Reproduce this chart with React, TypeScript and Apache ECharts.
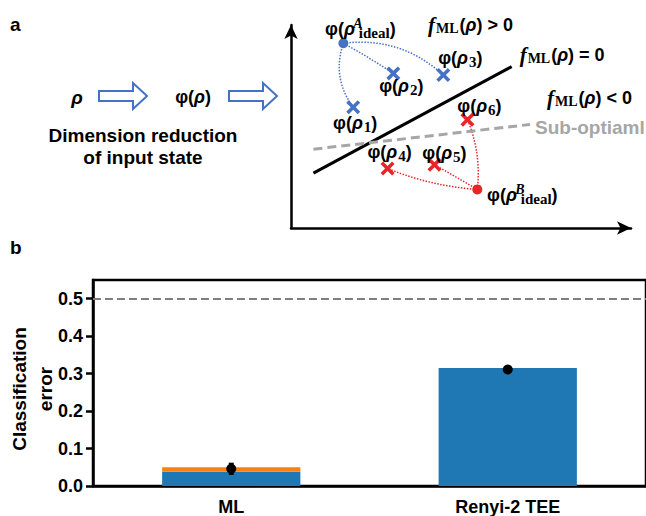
import React, { useEffect, useRef } from "react";
import * as echarts from "echarts";

const SANS = "'Liberation Sans', Arial, sans-serif";
const SERIF = "'Liberation Serif', 'Times New Roman', serif";

// ---------- Panel b: classification error ----------
const categories = ["ML", "Renyi-2 TEE"];
const blueError = [0.038, 0.315];
const orangeError = [0.012, 0];
const meanError = [0.046, 0.311];
const lowError = [0.033, 0.305];
const highError = [0.059, 0.317];
const yTickValues = [0, 0.1, 0.2, 0.3, 0.4, 0.5];
const chanceLevel = 0.5;
const yAxisTitleLines = ["Classification", "error"];

// ---------- Panel a: schematic feature space (arbitrary units) ----------
const classAIndex = ["1", "2", "3"];
const classAX = [1.83, 3.01, 4.48];
const classAY = [3.57, 4.57, 4.52];
const classBIndex = ["4", "5", "6"];
const classBX = [2.84, 4.22, 5.19];
const classBY = [1.76, 1.87, 3.2];
const idealA = [1.54, 5.46];
const idealB = [5.48, 1.14];
const boundaryX = [0.66, 6.49];
const boundaryY = [1.62, 4.77];
const subOptX = [0.66, 7.03];
const subOptY = [2.33, 3.06];

const BLUE = "#4472c4";
const RED = "#e8262a";

const noBorder = { textBorderWidth: 0, textBorderColor: "transparent", textShadowBlur: 0 };

const rich: any = {
  p: { fontFamily: SANS, fontWeight: "bold", fontSize: 18, color: "#000", ...noBorder },
  r: { fontFamily: SANS, fontWeight: "bold", fontStyle: "italic", fontSize: 18, color: "#000", ...noBorder },
  s: { fontFamily: SERIF, fontWeight: "bold", fontSize: 15, color: "#000", padding: [8, 0, 0, 1], ...noBorder },
  sup: { fontFamily: SERIF, fontWeight: "bold", fontStyle: "italic", fontSize: 14, color: "#000", padding: [0, 0, 11, 3], width: 0, ...noBorder },
  sub: { fontFamily: SERIF, fontWeight: "bold", fontSize: 15, color: "#000", padding: [8, 0, 0, 1], ...noBorder },
  f: { fontFamily: SERIF, fontWeight: "bold", fontStyle: "italic", fontSize: 21, color: "#000", ...noBorder },
  fs: { fontFamily: SERIF, fontWeight: "bold", fontSize: 14, color: "#000", padding: [7, 1, 0, 1], ...noBorder },
};

const phi = (i: string) => `{p|φ(}{r|ρ}{s|${i}}{p|)}`;
const phiIdeal = (c: string) => `{p|φ(}{r|ρ}{sup|${c}}{sub|ideal}{p|)}`;
const fml = (rel: string) => `{f|f}{fs|ML}{p|(}{r|ρ}{p|) ${rel} 0}`;

const offsetsA = [[2, 16], [8, 13], [17, -17]];
const offsetsB = [[2, -16], [10, -12], [12, -14]];
const curveA = [-0.26, 0.02, 0.23];
const curveB = [0.08, 0, -0.13];

const crossPath =
  "path://M1.8,0L5,3.2L8.2,0L10,1.8L6.8,5L10,8.2L8.2,10L5,6.8L1.8,10L0,8.2L3.2,5L0,1.8Z";

function buildOption(): any {
  const labelBase = { show: true, position: "inside", rich, color: "#000", ...noBorder };
  return {
    animation: false,
    backgroundColor: "#fff",
    grid: [
      { left: 93, right: -4, top: 280, bottom: 28, show: true, borderColor: "#000", borderWidth: 2.5 },
      { left: 291, right: 15, top: 25, bottom: 288 },
    ],
    xAxis: [
      {
        type: "category",
        gridIndex: 0,
        data: categories,
        axisLine: { lineStyle: { color: "#000", width: 2.5 } },
        axisTick: { show: false },
        axisLabel: { color: "#000", fontFamily: SANS, fontWeight: "bold", fontSize: 18, margin: 12 },
      },
      {
        type: "value",
        gridIndex: 1,
        min: 0,
        max: 10,
        axisLine: { show: true, symbol: ["none", "arrow"], symbolSize: [10, 14], lineStyle: { color: "#000", width: 2.5 } },
        axisTick: { show: false },
        axisLabel: { show: false },
        splitLine: { show: false },
      },
    ],
    yAxis: [
      {
        type: "value",
        gridIndex: 0,
        min: 0,
        max: 0.55,
        axisLine: { show: true, lineStyle: { color: "#000", width: 2.5 } },
        axisTick: { show: true, length: 7, lineStyle: { width: 2.5, color: "#000" }, customValues: yTickValues },
        axisLabel: {
          color: "#000",
          fontFamily: SANS,
          fontWeight: "bold",
          fontSize: 18,
          margin: 10,
          customValues: yTickValues,
          formatter: (v: number) => v.toFixed(1),
        },
        splitLine: { show: false },
      },
      {
        type: "value",
        gridIndex: 1,
        min: 0,
        max: 6,
        axisLine: { show: true, symbol: ["none", "arrow"], symbolSize: [10, 14], lineStyle: { color: "#000", width: 2.5 } },
        axisTick: { show: false },
        axisLabel: { show: false },
        splitLine: { show: false },
      },
    ],
    series: [
      {
        type: "bar",
        xAxisIndex: 0,
        yAxisIndex: 0,
        stack: "err",
        barWidth: "50%",
        data: blueError,
        itemStyle: { color: "#1f77b4" },
        markLine: {
          silent: true,
          symbol: "none",
          label: { show: false },
          lineStyle: { color: "#7f7f7f", width: 2, type: [8, 4] },
          data: [{ yAxis: chanceLevel }],
        },
      },
      {
        type: "bar",
        xAxisIndex: 0,
        yAxisIndex: 0,
        stack: "err",
        barWidth: "50%",
        data: orangeError,
        itemStyle: { color: "#ff7f0e" },
      },
      {
        type: "custom",
        xAxisIndex: 0,
        yAxisIndex: 0,
        data: categories.map((_, i) => [i, meanError[i], lowError[i], highError[i]]),
        renderItem: (params: any, api: any) => {
          const c = api.coord([api.value(0), api.value(1)]);
          const lo = api.coord([api.value(0), api.value(2)]);
          const hi = api.coord([api.value(0), api.value(3)]);
          const st = { stroke: "#000", lineWidth: 2.5 };
          return {
            type: "group",
            children: [
              { type: "line", shape: { x1: c[0], y1: lo[1], x2: c[0], y2: hi[1] }, style: st },
              { type: "line", shape: { x1: c[0] - 2.5, y1: lo[1], x2: c[0] + 2.5, y2: lo[1] }, style: st },
              { type: "line", shape: { x1: c[0] - 2.5, y1: hi[1], x2: c[0] + 2.5, y2: hi[1] }, style: st },
              { type: "circle", shape: { cx: c[0], cy: c[1], r: 5 }, style: { fill: "#000" } },
            ],
          };
        },
        z: 5,
      },
      // ----- panel a -----
      {
        type: "line",
        xAxisIndex: 1,
        yAxisIndex: 1,
        data: boundaryX.map((x, i) => [x, boundaryY[i]]),
        symbol: "none",
        lineStyle: { color: "#000", width: 3 },
        endLabel: { show: true, formatter: fml("="), rich, offset: [0, -12], distance: 8, ...noBorder },
      },
      {
        type: "line",
        xAxisIndex: 1,
        yAxisIndex: 1,
        data: subOptX.map((x, i) => [x, subOptY[i]]),
        symbol: "none",
        lineStyle: { color: "#a6a6a6", width: 3, type: [9, 5] },
        endLabel: {
          show: true,
          formatter: "Sub-optiaml",
          color: "#a6a6a6",
          fontFamily: SANS,
          fontWeight: "bold",
          fontSize: 19,
          distance: 5,
          offset: [0, 3],
          ...noBorder,
        },
      },
      {
        type: "lines",
        coordinateSystem: "cartesian2d",
        xAxisIndex: 1,
        yAxisIndex: 1,
        lineStyle: { color: BLUE, width: 1.5, type: "dotted", opacity: 1 },
        data: classAX.map((x, i) => ({ coords: [idealA, [x, classAY[i]]], lineStyle: { curveness: curveA[i] } })),
      },
      {
        type: "lines",
        coordinateSystem: "cartesian2d",
        xAxisIndex: 1,
        yAxisIndex: 1,
        lineStyle: { color: RED, width: 1.5, type: "dotted", opacity: 1 },
        data: classBX.map((x, i) => ({ coords: [idealB, [x, classBY[i]]], lineStyle: { curveness: curveB[i] } })),
      },
      {
        type: "scatter",
        xAxisIndex: 1,
        yAxisIndex: 1,
        symbol: crossPath,
        symbolSize: 14,
        itemStyle: { color: BLUE, opacity: 1 },
        label: labelBase,
        data: classAX.map((x, i) => ({
          value: [x, classAY[i]],
          label: { offset: offsetsA[i], formatter: phi(classAIndex[i]) },
        })),
        z: 4,
      },
      {
        type: "scatter",
        xAxisIndex: 1,
        yAxisIndex: 1,
        symbol: crossPath,
        symbolSize: 14,
        itemStyle: { color: RED, opacity: 1 },
        label: labelBase,
        data: classBX.map((x, i) => ({
          value: [x, classBY[i]],
          label: { offset: offsetsB[i], formatter: phi(classBIndex[i]) },
        })),
        z: 4,
      },
      {
        type: "scatter",
        xAxisIndex: 1,
        yAxisIndex: 1,
        symbol: "circle",
        symbolSize: 10,
        itemStyle: { opacity: 1 },
        label: labelBase,
        data: [
          { value: idealA, itemStyle: { color: BLUE, opacity: 1 }, label: { offset: [17, -14], formatter: phiIdeal("A") } },
          { value: idealB, itemStyle: { color: RED, opacity: 1 }, label: { offset: [45, 6], formatter: phiIdeal("B") } },
        ],
        z: 4,
      },
    ],
    graphic: [
      { type: "text", x: 10, y: 24, style: { text: "a", font: `bold 19px ${SANS}`, fill: "#000", verticalAlign: "middle" } },
      { type: "text", x: 10, y: 247, style: { text: "b", font: `bold 19px ${SANS}`, fill: "#000", verticalAlign: "middle" } },
      {
        type: "text",
        x: 19,
        y: 389,
        rotation: Math.PI / 2,
        style: { text: yAxisTitleLines[0], font: `bold 19px ${SANS}`, fill: "#000", align: "center", verticalAlign: "middle" },
      },
      {
        type: "text",
        x: 45,
        y: 389,
        rotation: Math.PI / 2,
        style: { text: yAxisTitleLines[1], font: `bold 19px ${SANS}`, fill: "#000", align: "center", verticalAlign: "middle" },
      },
      { type: "text", x: 77, y: 97, style: { text: "ρ", font: `italic bold 19px ${SANS}`, fill: "#000", align: "center", verticalAlign: "middle" } },
      {
        type: "polygon",
        shape: { points: [[99, 91], [133, 91], [133, 83], [147, 96], [133, 109], [133, 101], [99, 101]] },
        style: { fill: "#fff", stroke: BLUE, lineWidth: 2 },
      },
      {
        type: "polygon",
        shape: { points: [[229, 91], [263, 91], [263, 83], [277, 96], [263, 109], [263, 101], [229, 101]] },
        style: { fill: "#fff", stroke: BLUE, lineWidth: 2 },
      },
      { type: "text", x: 193, y: 97, style: { text: "{p|φ(}{r|ρ}{p|)}", rich, align: "center", verticalAlign: "middle" } },
      {
        type: "text",
        x: 143,
        y: 146,
        style: {
          text: "Dimension reduction\nof input state",
          font: `bold 19px ${SANS}`,
          lineHeight: 22,
          fill: "#000",
          align: "center",
          verticalAlign: "middle",
        },
      },
      { type: "text", x: 428, y: 25, style: { text: fml(">"), rich, align: "left", verticalAlign: "middle" } },
      { type: "text", x: 547, y: 98, style: { text: fml("<"), rich, align: "left", verticalAlign: "middle" } },
    ],
  };
}

export default function App() {
  const ref = useRef<HTMLDivElement>(null);
  useEffect(() => {
    if (!ref.current) return;
    const chart = echarts.init(ref.current, null, { renderer: "svg" });
    chart.setOption(buildOption());
    return () => chart.dispose();
  }, []);
  return (
    <div
      ref={ref}
      style={{ position: "absolute", left: 0, top: 0, width: 646, height: 516, background: "#fff" }}
    />
  );
}
